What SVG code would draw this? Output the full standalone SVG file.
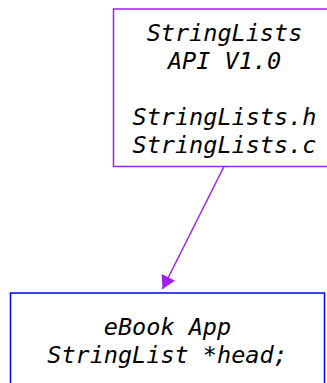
<svg xmlns="http://www.w3.org/2000/svg" width="327" height="383" viewBox="0 0 327 383">
<style>
.lbl{font-family:"DejaVu Sans Mono","Liberation Mono",monospace;font-style:italic;font-size:23.5px;fill:#000;text-anchor:middle}
.api{fill:#fff;stroke:#a020f0;stroke-width:1.5}
.app{fill:#fff;stroke:#0000ff;stroke-width:1.5}
.edge{stroke:#a020f0;stroke-width:1.5;fill:none}
</style>
<defs>
<marker id="ah" markerUnits="userSpaceOnUse" viewBox="-1 -9 15 18" refX="13" refY="0" markerWidth="15" markerHeight="18" orient="auto">
<path d="M0,-7.5 L13,0 L0,7.5 z" fill="#a020f0"/>
</marker>
</defs>
<rect width="327" height="383" fill="#fff"/>
<g id="node-api">
<rect class="api" x="113.5" y="9" width="225" height="157.5"/>
<text class="lbl" x="224.5" y="40.5">StringLists</text>
<text class="lbl" x="224.5" y="68.5">API V1.0</text>
<text class="lbl" x="224.5" y="124.8">StringLists.h</text>
<text class="lbl" x="224.5" y="152.8">StringLists.c</text>
</g>
<g id="node-app">
<rect class="app" x="10.5" y="293" width="314" height="110"/>
<text class="lbl" x="167.5" y="334.5">eBook App</text>
<text class="lbl" x="167.5" y="362.5">StringList *head;</text>
</g>
<g id="connectors">
<line class="edge" x1="224" y1="166.5" x2="162.5" y2="289" marker-end="url(#ah)"/>
</g>
</svg>
